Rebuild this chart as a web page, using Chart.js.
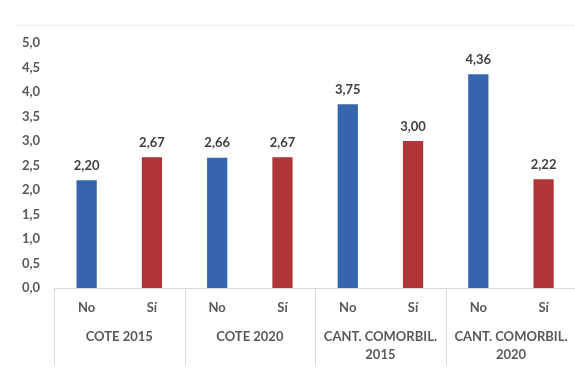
<!DOCTYPE html>
<html>
<head>
<meta charset="utf-8">
<script src="https://cdn.jsdelivr.net/npm/chart.js@4.4.1/dist/chart.umd.min.js"></script>
<style>
  html, body { margin: 0; padding: 0; background: #fff; overflow: hidden; }
  #wrap { position: relative; width: 580px; height: 373px; }
  #topline { position: absolute; left: 16px; top: 25px; width: 564px; height: 1px; background: #ebebeb; }
</style>
</head>
<body>
<div id="wrap">
  <div id="topline"></div>
  <canvas id="chart" width="580" height="373"></canvas>
</div>
<script>
// === Data ===
const groups = [["COTE 2015"], ["COTE 2020"], ["CANT. COMORBIL.", "2015"], ["CANT. COMORBIL.", "2020"]];
const answers = ["No", "Sí"];
const noValues = [2.20, 2.66, 3.75, 4.36];
const siValues = [2.67, 2.67, 3.00, 2.22];
const yTicks = [0, 0.5, 1, 1.5, 2, 2.5, 3, 3.5, 4, 4.5, 5];

const blue = "#3565ae";
const red = "#b03537";
const textColor = "#595959";
const font = "Lato";

// one category per bar: No, Sí, No, Sí ...
const barLabels = groups.flatMap(() => answers);
const noData = groups.flatMap((g, i) => [noValues[i], null]);
const siData = groups.flatMap((g, i) => [null, siValues[i]]);

const comma = (v, d) => v.toFixed(d).replace(".", ",");

// === Value labels above bars ===
const valueLabels = {
  id: "valueLabels",
  afterDatasetsDraw(chart) {
    const ctx = chart.ctx;
    ctx.save();
    ctx.font = `bold 13px ${font}`;
    ctx.fillStyle = "#404040";
    ctx.textAlign = "center";
    ctx.textBaseline = "bottom";
    chart.data.datasets.forEach((ds, di) => {
      chart.getDatasetMeta(di).data.forEach((bar, i) => {
        const v = ds.data[i];
        if (v == null) return;
        ctx.fillText(comma(v, 2), bar.x, bar.y - 8);
      });
    });
    ctx.restore();
  }
};

// === Group separators under the axis ===
const groupLines = {
  id: "groupLines",
  afterDraw(chart) {
    const x = chart.scales.x;
    const ctx = chart.ctx;
    const step = x.getPixelForValue(1) - x.getPixelForValue(0);
    ctx.save();
    ctx.strokeStyle = "#d9d9d9";
    ctx.lineWidth = 1;
    for (let g = 0; g <= groups.length; g++) {
      const px = Math.round(x.getPixelForValue(g * answers.length) - step / 2) + 0.5;
      ctx.beginPath();
      ctx.moveTo(px, chart.chartArea.bottom);
      ctx.lineTo(px, 365);
      ctx.stroke();
    }
    ctx.restore();
  }
};

new Chart(document.getElementById("chart"), {
  type: "bar",
  data: {
    labels: barLabels,
    datasets: [
      { label: answers[0], data: noData, backgroundColor: blue, grouped: false, barPercentage: 0.31, categoryPercentage: 1 },
      { label: answers[1], data: siData, backgroundColor: red, grouped: false, barPercentage: 0.31, categoryPercentage: 1 }
    ]
  },
  options: {
    responsive: false,
    animation: false,
    layout: { padding: { top: 43, right: 0, left: 0, bottom: 0 } },
    plugins: { legend: { display: false }, tooltip: { enabled: false } },
    scales: {
      y: {
        min: 0,
        max: 5,
        afterBuildTicks: (s) => { s.ticks = yTicks.map(v => ({ value: v })); },
        afterFit: (s) => { s.width = 54; },
        grid: { display: false, drawTicks: false },
        border: { display: false },
        ticks: {
          padding: 14,
          color: textColor,
          font: { family: font, size: 13, weight: "bold" },
          callback: (v) => comma(v, 1)
        }
      },
      x: {
        afterFit: (s) => { s.height = 28; },
        grid: { display: false, drawTicks: false },
        border: { display: true, color: "#d9d9d9" },
        ticks: {
          padding: 12,
          color: textColor,
          font: { family: font, size: 13, weight: "bold" },
          maxRotation: 0,
          autoSkip: false
        }
      },
      x2: {
        type: "category",
        position: "bottom",
        labels: groups,
        afterFit: (s) => { s.height = 57; },
        grid: { display: false, drawTicks: false },
        border: { display: false },
        ticks: {
          padding: 12,
          color: textColor,
          font: { family: font, size: 13, weight: "bold", lineHeight: 1.4 },
          maxRotation: 0,
          autoSkip: false
        }
      }
    }
  },
  plugins: [valueLabels, groupLines]
});
</script>
</body>
</html>
